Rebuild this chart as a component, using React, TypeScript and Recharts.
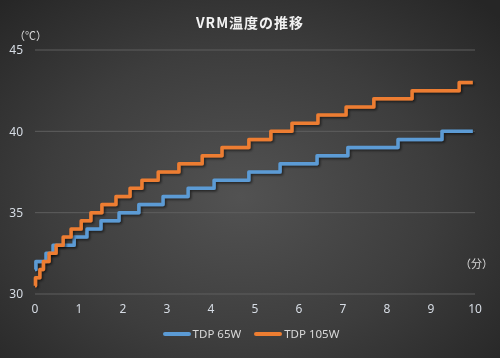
import React from "react";
import {
  LineChart,
  Line,
  XAxis,
  YAxis,
  CartesianGrid,
  Legend,
} from "recharts";

// step change times (minutes) and temperature after each change
const blueTimes = [0, 0.02, 0.25, 0.41, 0.89, 1.18, 1.5, 1.91, 2.36, 2.91, 3.48, 4.07, 4.86, 5.57, 6.41, 7.11, 8.25, 9.25, 9.95];
const blueTemps = [31.5, 32, 32.5, 33, 33.5, 34, 34.5, 35, 35.5, 36, 36.5, 37, 37.5, 38, 38.5, 39, 39.5, 40, 40];

const orangeTimes = [0, 0.01, 0.11, 0.19, 0.32, 0.48, 0.64, 0.82, 1.05, 1.27, 1.52, 1.84, 2.16, 2.43, 2.8, 3.27, 3.8, 4.25, 4.86, 5.36, 5.84, 6.43, 7.07, 7.7, 8.57, 9.64, 9.95];
const orangeTemps = [30.5, 31, 31.5, 32, 32.5, 33, 33.5, 34, 34.5, 35, 35.5, 36, 36.5, 37, 37.5, 38, 38.5, 39, 39.5, 40, 40.5, 41, 41.5, 42, 42.5, 43, 43];

const xTicks = [0, 1, 2, 3, 4, 5, 6, 7, 8, 9, 10];
const yTicks = [30, 35, 40, 45];

const seriesNames = ["TDP 65W", "TDP 105W"];
const BLUE = "#5B9BD5";
const ORANGE = "#ED7D31";

const blueData = blueTimes.map((t, i) => ({ t, v: blueTemps[i] }));
const orangeData = orangeTimes.map((t, i) => ({ t, v: orangeTemps[i] }));

const font = "'Noto Sans', 'Noto Sans CJK JP', sans-serif";
const tickStyle = { fontSize: 12, fill: "#d6dce4", fontFamily: font };

function LegendBox() {
  const items = [
    { name: seriesNames[0], color: BLUE },
    { name: seriesNames[1], color: ORANGE },
  ];
  return (
    <div style={{ display: "flex", justifyContent: "center", gap: 13, fontFamily: font, fontSize: 11.5, color: "#d9d9d9", paddingLeft: 26 }}>
      {items.map((it) => (
        <div key={it.name} style={{ display: "flex", alignItems: "center" }}>
          <span style={{ display: "inline-block", width: 28, height: 4, borderRadius: 2, background: it.color, marginRight: 2 }} />
          <span>{it.name}</span>
        </div>
      ))}
    </div>
  );
}

export default function App() {
  return (
    <div
      style={{
        position: "fixed",
        left: 0,
        top: 0,
        width: 500,
        height: 358,
        background: "radial-gradient(ellipse 70% 75% at 48% 55%, #525252 0%, #3d3d3d 55%, #262626 100%)",
      }}
    >
      <div style={{ position: "absolute", top: 12, left: 0, width: 500, textAlign: "center", color: "#f2f2f2", fontFamily: "'Noto Sans CJK JP', sans-serif", fontWeight: 700, fontSize: 14, letterSpacing: 1 }}>
        VRM温度の推移
      </div>
      <div style={{ position: "absolute", top: 27, left: 14, color: "#d9d9d9", fontFamily: "'Noto Sans CJK JP', sans-serif", fontSize: 11 }}>
        （℃）
      </div>
      <div style={{ position: "absolute", top: 255, left: 460, color: "#d9d9d9", fontFamily: "'Noto Sans CJK JP', sans-serif", fontSize: 11 }}>
        （分）
      </div>
      <LineChart width={500} height={358} margin={{ top: 50, right: 25, left: 1, bottom: 10 }}>
        <defs>
          <filter id="lineShadow" x="-5%" y="-5%" width="110%" height="120%">
            <feDropShadow dx="1.5" dy="1.5" stdDeviation="1" floodColor="#000" floodOpacity="0.55" />
          </filter>
        </defs>
        <CartesianGrid vertical={false} stroke="#5e5e5e" strokeWidth={1} />
        <XAxis
          type="number"
          dataKey="t"
          domain={[0, 10]}
          ticks={xTicks}
          tick={tickStyle}
          axisLine={false}
          tickLine={false}
          height={32}
          tickMargin={4}
          allowDuplicatedCategory={false}
        />
        <YAxis
          type="number"
          domain={[30, 45]}
          ticks={yTicks}
          tick={tickStyle}
          axisLine={false}
          tickLine={false}
          width={34}
          tickMargin={6}
        />
        <Legend verticalAlign="bottom" height={22} content={() => <LegendBox />} />
        <Line
          data={blueData}
          dataKey="v"
          name={seriesNames[0]}
          type="stepAfter"
          stroke={BLUE}
          strokeWidth={3.5}
          strokeLinejoin="round"
          dot={false}
          filter="url(#lineShadow)"
          isAnimationActive={false}
        />
        <Line
          data={orangeData}
          dataKey="v"
          name={seriesNames[1]}
          type="stepAfter"
          stroke={ORANGE}
          strokeWidth={3.5}
          strokeLinejoin="round"
          dot={false}
          filter="url(#lineShadow)"
          isAnimationActive={false}
        />
      </LineChart>
    </div>
  );
}
